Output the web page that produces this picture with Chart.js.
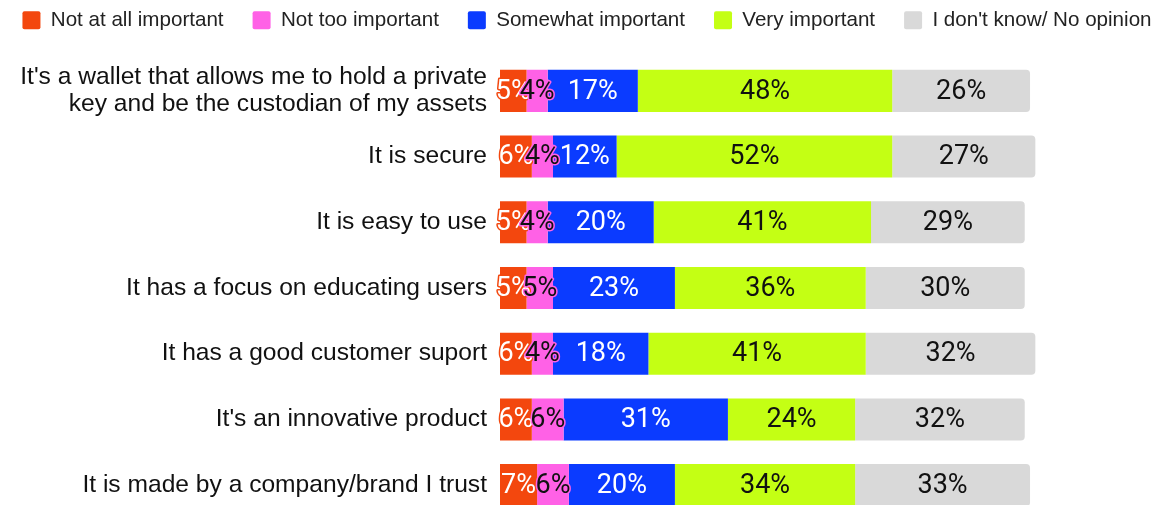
<!DOCTYPE html>
<html>
<head>
<meta charset="utf-8">
<title>Wallet features importance</title>
<script src="https://cdn.jsdelivr.net/npm/chart.js"></script>
<style>
  html, body { margin: 0; padding: 0; background: #fff; overflow: hidden; }
  #wrap { width: 1166px; height: 505px; overflow: hidden; position: relative; }
  #importanceChart { position: absolute; left: -23px; top: -19px; }
</style>
</head>
<body>
<div id="wrap">
  <canvas id="importanceChart" width="1220" height="537"></canvas>
</div>
<script>
const categories = [
    ["It's a wallet that allows me to hold a private", "key and be the custodian of my assets"],
    'It is secure',
    'It is easy to use',
    'It has a focus on educating users',
    'It has a good customer suport',
    "It's an innovative product",
    'It is made by a company/brand I trust'
];

const seriesNames = ['Not at all important', 'Not too important', 'Somewhat important', 'Very important', "I don't know/ No opinion"];

const notAtAll  = [5, 6, 5, 5, 6, 6, 7];
const notToo    = [4, 4, 4, 5, 4, 6, 6];
const somewhat  = [17, 12, 20, 23, 18, 31, 20];
const very      = [48, 52, 41, 36, 41, 24, 34];
const dontKnow  = [26, 27, 29, 30, 32, 32, 33];

const colors     = ['#F3470E', '#FF61E6', '#0B3BFF', '#C4FF14', '#D9D9D9'];
const textColors = ['#ffffff', '#111111', '#ffffff', '#111111', '#111111'];

// keep the legend block short so the bars start right under it
const legendTrim = {
    id: 'legendTrim',
    beforeLayout(chart) {
        const lg = chart.legend;
        if (!lg || lg._trimmed) return;
        const fit = lg.fit;
        lg.fit = function () {
            fit.call(this);
            this.height = 77;
        };
        lg._trimmed = true;
    }
};

// percent labels inside every segment, outlined in the segment colour
const barLabels = {
    id: 'barLabels',
    afterDatasetsDraw(chart) {
        const ctx = chart.ctx;
        ctx.save();
        ctx.font = '27px Roboto';
        ctx.textAlign = 'center';
        ctx.textBaseline = 'middle';
        ctx.lineJoin = 'round';
        chart.data.datasets.forEach((ds, i) => {
            const meta = chart.getDatasetMeta(i);
            meta.data.forEach((bar, j) => {
                const p = bar.getCenterPoint();
                const txt = ds.data[j] + '%';
                ctx.lineWidth = 3;
                ctx.strokeStyle = colors[i];
                ctx.strokeText(txt, p.x, p.y + 1);
                ctx.fillStyle = textColors[i];
                ctx.fillText(txt, p.x, p.y + 1);
            });
        });
        ctx.restore();
    }
};

const seriesData = [notAtAll, notToo, somewhat, very, dontKnow];

const datasets = seriesData.map((values, i) => ({
    label: seriesNames[i],
    data: values,
    backgroundColor: colors[i],
    borderWidth: 0,
    borderRadius: i === seriesData.length - 1 ? 4 : 0,
    borderSkipped: 'start',
    categoryPercentage: 0.8,
    barPercentage: 0.8
}));

new Chart(document.getElementById('importanceChart'), {
    type: 'bar',
    data: { labels: categories, datasets: datasets },
    options: {
        indexAxis: 'y',
        responsive: false,
        animation: false,
        layout: { padding: 0 },
        plugins: {
            legend: {
                position: 'top',
                labels: {
                    boxWidth: 18,
                    boxHeight: 18,
                    useBorderRadius: true,
                    borderRadius: 2,
                    padding: 29,
                    color: '#222',
                    font: { family: 'Arial, "Liberation Sans"', size: 20.6 }
                }
            },
            tooltip: { enabled: false }
        },
        scales: {
            x: {
                stacked: true,
                display: false,
                min: 0,
                max: 131.5
            },
            y: {
                stacked: true,
                grid: { display: false, drawTicks: false },
                border: { display: false },
                ticks: {
                    color: '#111',
                    padding: 13,
                    font: { family: 'Arial, "Liberation Sans"', size: 24.6, lineHeight: 1.1 }
                },
                afterFit(scale) {
                    scale.width = 523;
                    scale.paddingTop = 0;
                    scale.paddingBottom = 0;
                }
            }
        }
    },
    plugins: [legendTrim, barLabels]
});
</script>
</body>
</html>
